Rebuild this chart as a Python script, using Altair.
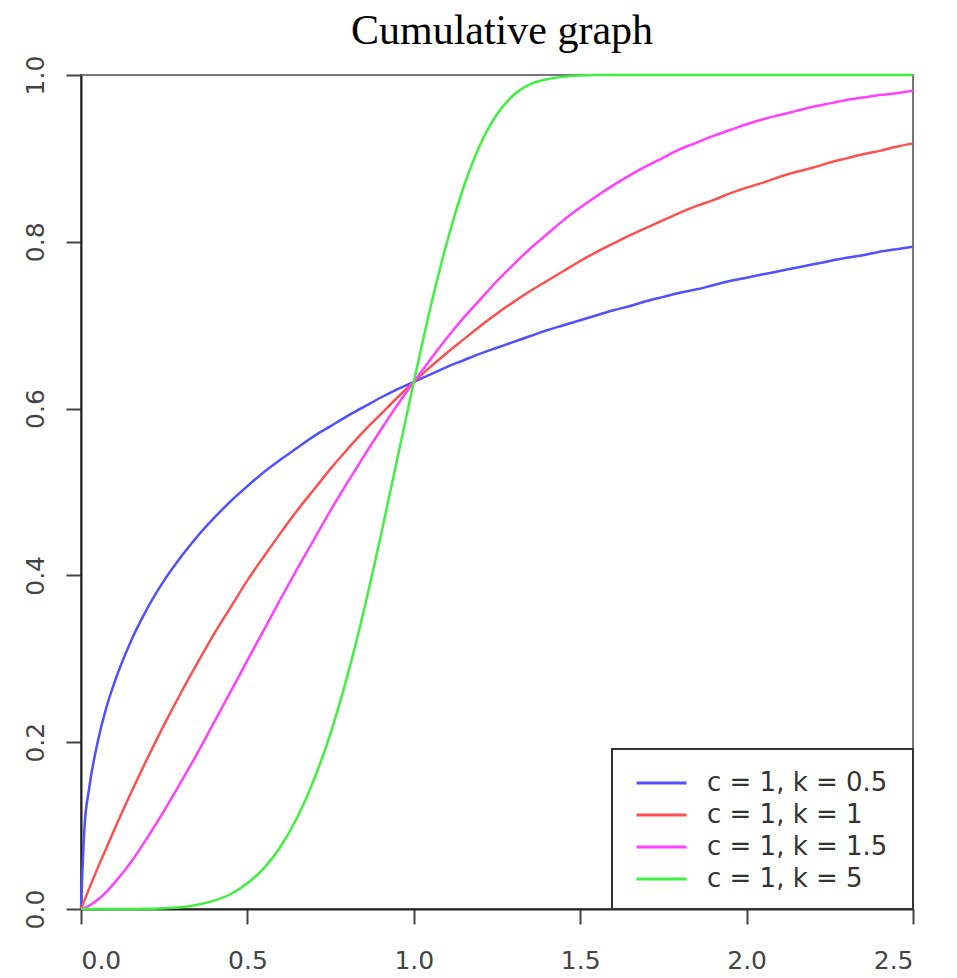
import altair as alt
import pandas as pd

# x positions read along the horizontal axis
x_vals = [0, 0.01, 0.025, 0.05, 0.075, 0.1, 0.15, 0.2, 0.25, 0.3, 0.35, 0.4, 0.45, 0.5,
          0.55, 0.6, 0.65, 0.7, 0.75, 0.8, 0.85, 0.9, 0.95, 1.0, 1.05, 1.1, 1.15, 1.2,
          1.25, 1.3, 1.35, 1.4, 1.45, 1.5, 1.55, 1.6, 1.65, 1.7, 1.75, 1.8, 1.85, 1.9,
          1.95, 2.0, 2.05, 2.1, 2.15, 2.2, 2.25, 2.3, 2.35, 2.4, 2.45, 2.5]

# cumulative values for each curve
k05 = [0, 0.095, 0.146, 0.200, 0.240, 0.271, 0.321, 0.361, 0.394, 0.422, 0.447, 0.469,
       0.489, 0.507, 0.524, 0.539, 0.553, 0.567, 0.579, 0.591, 0.602, 0.613, 0.623, 0.632,
       0.641, 0.650, 0.658, 0.666, 0.673, 0.680, 0.687, 0.694, 0.700, 0.706, 0.712, 0.718,
       0.723, 0.729, 0.734, 0.739, 0.743, 0.748, 0.753, 0.757, 0.761, 0.765, 0.769, 0.773,
       0.777, 0.781, 0.784, 0.788, 0.791, 0.794]
k1 = [0, 0.010, 0.025, 0.049, 0.072, 0.095, 0.139, 0.181, 0.221, 0.259, 0.295, 0.330,
      0.362, 0.394, 0.423, 0.451, 0.478, 0.503, 0.528, 0.551, 0.573, 0.593, 0.613, 0.632,
      0.650, 0.667, 0.683, 0.699, 0.714, 0.728, 0.741, 0.753, 0.765, 0.777, 0.788, 0.798,
      0.808, 0.817, 0.826, 0.835, 0.843, 0.850, 0.858, 0.865, 0.871, 0.878, 0.884, 0.889,
      0.895, 0.900, 0.905, 0.909, 0.914, 0.918]
k15 = [0, 0.001, 0.004, 0.011, 0.020, 0.031, 0.056, 0.086, 0.118, 0.152, 0.187, 0.224,
       0.261, 0.298, 0.335, 0.372, 0.408, 0.443, 0.478, 0.511, 0.543, 0.574, 0.604, 0.632,
       0.659, 0.685, 0.709, 0.731, 0.753, 0.773, 0.792, 0.809, 0.826, 0.841, 0.855, 0.868,
       0.880, 0.891, 0.901, 0.911, 0.919, 0.927, 0.934, 0.941, 0.947, 0.952, 0.957, 0.962,
       0.966, 0.970, 0.973, 0.976, 0.978, 0.981]
k5 = [0, 0, 0, 0, 0, 0, 0.0001, 0.0003, 0.001, 0.002, 0.005, 0.010, 0.018, 0.031, 0.049,
      0.075, 0.110, 0.155, 0.211, 0.279, 0.358, 0.446, 0.539, 0.632, 0.721, 0.800, 0.866,
      0.917, 0.953, 0.976, 0.989, 0.995, 0.998, 0.9995, 0.9999, 1, 1, 1, 1, 1, 1, 1, 1, 1,
      1, 1, 1, 1, 1, 1, 1, 1, 1, 1]

series_labels = ["c = 1, k = 0.5", "c = 1, k = 1", "c = 1, k = 1.5", "c = 1, k = 5"]
series_colors = ["#5050ff", "#ff5050", "#ff40ff", "#40f040"]
x_ticks = [0.0, 0.5, 1.0, 1.5, 2.0, 2.5]
y_ticks = [0.0, 0.2, 0.4, 0.6, 0.8, 1.0]

rows = []
for label, ys in zip(series_labels, [k05, k1, k15, k5]):
    for i, (x, y) in enumerate(zip(x_vals, ys)):
        rows.append({"x": x, "y": y, "series": label, "order": i})
df = pd.DataFrame(rows)

lines = alt.Chart(df).mark_line(strokeWidth=2.5, interpolate="monotone").encode(
    x=alt.X("x:Q", scale=alt.Scale(domain=[0, 2.5], nice=False, zero=False),
            axis=alt.Axis(values=x_ticks, format=".1f", title=None, labelPadding=24)),
    y=alt.Y("y:Q", scale=alt.Scale(domain=[0, 1], nice=False),
            axis=alt.Axis(values=y_ticks, format=".1f", title=None, labelAngle=-90,
                          labelAlign="center", labelBaseline="bottom", labelPadding=18)),
    color=alt.Color("series:N", scale=alt.Scale(domain=series_labels, range=series_colors),
                    legend=alt.Legend(title=None, orient="none", legendX=554, legendY=692,
                                      direction="vertical", padding=0,
                                      symbolType="stroke", symbolSize=2500,
                                      symbolStrokeWidth=3, symbolOffset=0,
                                      clipHeight=32, rowPadding=0,
                                      labelOffset=19, labelLimit=400,
                                      labelFont="DejaVu Sans", labelFontSize=26,
                                      labelColor="#333333")),
    order="order:Q",
)

# legend frame
legend_box = alt.Chart(pd.DataFrame({"box": [0]})).mark_rect(
    fill="white", stroke="#333333", strokeWidth=2
).encode(
    x=alt.value(531), x2=alt.value(832), y=alt.value(674), y2=alt.value(834)
)

chart = alt.layer(legend_box, lines).properties(
    width=832,
    height=834,
    title=alt.TitleParams("Cumulative graph", font="Liberation Serif", fontSize=42,
                          fontWeight="normal", color="black", anchor="middle", dx=5,
                          frame="group", baseline="alphabetic", offset=-31),
    padding={"left": 15, "top": 2, "right": 10, "bottom": 5},
).configure_view(
    stroke="#777777", strokeWidth=2
).configure_axis(
    grid=False, domainColor="#222222", domainWidth=2, tickColor="#444444", tickWidth=2,
    tickSize=15, labelFont="DejaVu Sans", labelFontSize=25, labelColor="#444444"
)

chart.save("out.html", embed_options={"renderer": "svg", "actions": False})
